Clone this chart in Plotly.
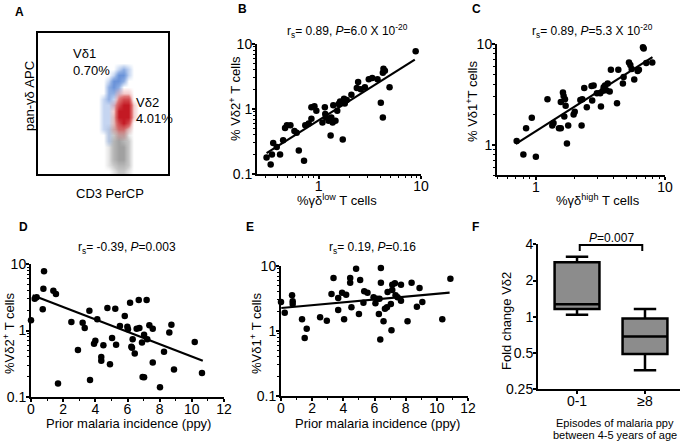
import numpy as np
import plotly.graph_objects as go

W, H = 684, 446
FONT = "Liberation Sans, Arial, sans-serif"

# ---------------- data ----------------
# Panel A: flow cytometry densities (coarse grid)
A_xc = [60, 65, 70, 75, 80, 85, 90, 95, 100]
A_yc = [3, 9, 15, 21, 27, 33, 39, 45, 51, 57, 63, 69, 75, 81, 87, 93, 99, 105, 111]
A_grey = [
    [0, 0, 0, 1, 2, 2, 1, 0, 0],
    [0, 0, 1, 2, 3, 3, 2, 0, 0],
    [0, 0, 1, 3, 4, 4, 2, 0, 0],
    [0, 0, 1, 3, 4, 4, 2, 0, 0],
    [0, 0, 1, 3, 4, 4, 2, 0, 0],
    [0, 0, 1, 3, 4, 3, 2, 0, 0],
    [0, 0, 1, 2, 3, 3, 1, 0, 0],
    [0, 0, 1, 2, 2, 2, 1, 0, 0],
    [0, 0, 0, 1, 1, 1, 0, 0, 0],
    [0, 0, 0, 1, 1, 0, 0, 0, 0],
] + [[0] * 9 for _ in range(9)]
A_red = [[0] * 9 for _ in range(6)] + [
    [0, 0, 0, 0, 1, 1, 0, 0, 0],
    [0, 0, 0, 1, 2, 2, 1, 0, 0],
    [0, 0, 0, 1, 3, 4, 3, 0, 0],
    [0, 0, 0, 1, 4, 4, 4, 1, 0],
    [0, 0, 0, 1, 4, 4, 4, 1, 0],
    [0, 0, 0, 1, 3, 4, 4, 1, 0],
    [0, 0, 0, 0, 2, 3, 3, 0, 0],
    [0, 0, 0, 0, 1, 1, 1, 0, 0],
] + [[0] * 9 for _ in range(5)]
A_blue = [[0] * 9 for _ in range(5)] + [
    [0, 0, 1, 0, 0, 0, 0, 0, 0],
    [0, 0, 1, 0, 0, 0, 0, 0, 0],
    [0, 1, 1, 0, 0, 0, 0, 0, 0],
    [0, 1, 1, 0, 0, 0, 0, 0, 0],
    [0, 1, 1, 0, 0, 0, 0, 0, 0],
    [0, 1, 1, 0, 0, 0, 0, 0, 0],
    [0, 1, 1, 1, 0, 0, 0, 0, 0],
    [0, 1, 2, 1, 0, 0, 0, 0, 0],
    [0, 0, 2, 2, 1, 0, 0, 0, 0],
    [0, 0, 2, 3, 2, 0, 0, 0, 0],
    [0, 0, 1, 3, 3, 2, 0, 0, 0],
    [0, 0, 0, 1, 3, 3, 1, 0, 0],
    [0, 0, 0, 0, 1, 2, 1, 0, 0],
    [0, 0, 0, 0, 0, 0, 0, 0, 0],
]

# Panel B
B_x = [0.31, 0.34, 0.35, 0.36, 0.39, 0.42, 0.45, 0.47, 0.49, 0.53,
       0.58, 0.61, 0.64, 0.72, 0.74, 0.80, 0.85, 0.85, 0.91, 0.95,
       1.09, 1.15, 1.16, 1.18, 1.25, 1.31, 1.33, 1.37, 1.39, 1.46,
       1.52, 1.57, 1.62, 1.72, 1.77, 1.80, 1.88, 2.09, 2.36, 2.43,
       2.58, 2.83, 3.09, 3.34, 3.76, 4.05, 4.24, 4.24, 4.30, 4.44,
       4.93, 8.87]
B_y = [0.18, 0.14, 0.20, 0.30, 0.26, 0.20, 0.33, 0.51, 0.56, 0.56,
       0.46, 0.43, 0.23, 0.16, 0.56, 0.60, 0.71, 1.06, 1.10, 0.94,
       0.62, 1.06, 0.84, 0.74, 0.66, 0.39, 0.74, 0.62, 1.14, 0.66,
       0.94, 1.19, 1.31, 0.34, 1.44, 1.22, 1.38, 1.66, 2.10, 2.60,
       2.01, 2.16, 2.87, 3.0, 2.87, 1.25, 0.74, 3.6, 4.17, 3.89,
       2.16, 7.73]
B_fit_x = [0.31, 8.7]
B_fit_y = [0.21, 5.75]

# Panel C
C_x = [0.71, 0.80, 0.84, 0.93, 1.0, 1.23, 1.34, 1.37, 1.51, 1.56,
       1.56, 1.62, 1.64, 1.66, 1.68, 1.70, 1.74, 1.78, 1.96, 2.0,
       2.21, 2.26, 2.29, 2.37, 2.48, 2.70, 2.73, 2.80, 2.97, 3.15,
       3.19, 3.31, 3.35, 3.43, 3.51, 3.60, 3.73, 3.81, 4.25, 4.35,
       4.72, 4.78, 5.26, 5.39, 5.52, 5.78, 6.14, 6.28, 6.75, 6.84,
       7.16, 7.97]
C_y = [1.09, 0.80, 1.46, 1.85, 0.76, 2.82, 1.55, 1.64, 1.46, 1.46,
       2.66, 3.29, 3.05, 1.91, 2.82, 2.43, 1.03, 1.55, 2.0, 2.12,
       2.78, 1.55, 2.82, 3.65, 2.36, 3.82, 2.74, 3.87, 3.24, 3.24,
       2.39, 3.44, 3.71, 3.87, 3.48, 4.06, 3.38, 5.56, 2.58, 5.56,
       4.06, 4.71, 6.56, 6.18, 5.65, 4.44, 5.40, 5.56, 9.28, 9.0,
       6.46, 6.56]
C_fit_x = [0.70, 8.0]
C_fit_y = [1.02, 7.4]

# Panel D
D_x = [0, 0.23, 0.35, 0.81, 0.77, 0.73, 1.39, 1.55, 1.68, 2.51,
       2.92, 3.21, 3.34, 3.63, 3.67, 3.92, 4.0, 4.12, 4.37, 4.37,
       4.5, 4.75, 4.91, 5.04, 5.24, 5.29, 5.53, 5.83, 5.99, 6.03,
       6.16, 6.24, 6.28, 6.32, 6.45, 6.57, 6.70, 6.74, 6.9, 6.94,
       7.03, 7.03, 7.19, 7.23, 7.36, 7.57, 7.57, 8.02, 8.27, 8.6,
       8.73, 8.89, 10.18, 10.63]
D_y = [1.42, 3.0, 3.16, 7.76, 4.26, 2.08, 3.97, 3.54, 0.16, 1.34,
       0.51, 1.31, 1.09, 1.99, 0.18, 0.63, 0.70, 1.47, 0.40, 0.35,
       0.60, 2.18, 0.31, 0.77, 2.13, 0.61, 1.17, 1.65, 1.14, 1.04,
       2.62, 0.57, 0.55, 0.74, 0.45, 1.06, 2.88, 1.09, 0.66, 0.20,
       0.198, 0.86, 2.88, 0.74, 1.20, 1.06, 0.33, 0.14, 0.48, 0.93,
       1.22, 0.26, 0.67, 0.23]
D_fit_x = [0.1, 10.68]
D_fit_y = [3.38, 0.35]

# Panel E
E_x = [0, 0.24, 0.71, 0.75, 0.75, 1.35, 1.52, 1.65, 2.51, 2.94,
       3.24, 3.37, 3.67, 3.67, 3.92, 4.05, 4.18, 4.44, 4.44, 4.52,
       4.82, 5.0, 5.08, 5.29, 5.34, 5.55, 5.94, 6.06, 6.15, 6.28,
       6.32, 6.37, 6.41, 6.41, 6.58, 6.67, 6.80, 6.84, 7.05, 7.09,
       7.14, 7.14, 7.31, 7.35, 7.48, 7.70, 7.70, 8.12, 8.38, 8.72,
       8.89, 9.07, 10.35, 10.87]
E_y = [2.79, 1.91, 3.54, 2.86, 2.60, 1.51, 0.78, 1.08, 1.63, 1.44,
       3.71, 6.54, 3.22, 2.10, 3.88, 1.51, 3.61, 6.54, 5.53, 2.31,
       9.1, 1.83, 6.09, 2.73, 4.08, 3.89, 3.30, 2.67, 3.14, 1.83,
       3.14, 0.74, 5.53, 9.3, 1.41, 2.20, 2.31, 3.98, 2.60, 1.03,
       4.27, 5.16, 5.41, 3.54, 3.30, 5.16, 2.92, 1.41, 5.53, 2.37,
       4.59, 2.79, 1.51, 6.38]
E_fit_x = [0.02, 10.82]
E_fit_y = [2.26, 3.89]

# Panel F (box summary)
F_cats = ["0-1", "\u22658"]
F_lower = [1.04, 0.36]
F_q1 = [1.16, 0.49]
F_med = [1.27, 0.685]
F_q3 = [2.84, 0.97]
F_upper = [3.16, 1.16]

# --------------- helpers ---------------
def px_x(p):
    return p / W

def px_y(p):
    return 1 - p / H

fig = go.Figure()

def scatter(xs, ys, ax):
    fig.add_trace(go.Scatter(x=xs, y=ys, mode="markers", xaxis="x" + ax, yaxis="y" + ax,
                             marker=dict(color="black", size=6.5), cliponaxis=False,
                             showlegend=False, hoverinfo="skip"))

def fitline(xs, ys, ax):
    fig.add_trace(go.Scatter(x=xs, y=ys, mode="lines", xaxis="x" + ax, yaxis="y" + ax,
                             line=dict(color="black", width=2.2), showlegend=False,
                             hoverinfo="skip"))

# Panel A heatmaps
def blob(z, colors):
    fig.add_trace(go.Heatmap(x=A_xc, y=A_yc, z=z, zmin=0, zmax=4, zsmooth="best",
                             colorscale=colors, showscale=False, hoverinfo="skip",
                             xaxis="x", yaxis="y"))

blob(A_grey, [[0, "rgba(200,200,200,0)"], [0.25, "rgba(195,195,195,0.45)"],
              [0.5, "rgba(185,185,185,0.8)"], [1, "rgba(160,160,160,1)"]])
blob(A_blue, [[0, "rgba(90,140,215,0)"], [0.25, "rgba(110,150,220,0.4)"],
              [0.5, "rgba(95,140,215,0.7)"], [1, "rgba(65,115,205,1)"]])
blob(A_red, [[0, "rgba(215,60,60,0)"], [0.25, "rgba(220,90,90,0.3)"],
             [0.5, "rgba(210,60,60,0.7)"], [1, "rgba(195,25,35,1)"]])

scatter(B_x, B_y, "2"); fitline(B_fit_x, B_fit_y, "2")
scatter(C_x, C_y, "3"); fitline(C_fit_x, C_fit_y, "3")
scatter(D_x, D_y, "4"); fitline(D_fit_x, D_fit_y, "4")
scatter(E_x, E_y, "5"); fitline(E_fit_x, E_fit_y, "5")

for i in range(2):
    fig.add_trace(go.Box(x=[i], q1=[F_q1[i]], median=[F_med[i]], q3=[F_q3[i]],
                         lowerfence=[F_lower[i]], upperfence=[F_upper[i]],
                         xaxis="x6", yaxis="y6", width=0.66, whiskerwidth=0.5,
                         fillcolor="#8c8c8c", line=dict(color="black", width=2.5),
                         showlegend=False, hoverinfo="skip", boxpoints=False))

# --------------- axes ---------------
base = dict(showline=True, linecolor="black", linewidth=2, ticks="outside", ticklen=3,
            tickwidth=1.5, tickcolor="black", showgrid=False, zeroline=False, automargin=False,
            tickfont=dict(size=14, color="black", family=FONT))
xbase = dict(base, ticklabelstandoff=-5)
ybase = dict(base, ticklabelstandoff=-3)

def logminor(lo, hi):
    vals = []
    for d in range(-2, 2):
        for m in range(2, 10):
            v = m * 10 ** d
            if lo <= v <= hi:
                vals.append(v)
    return dict(ticks="outside", ticklen=2, tickwidth=1, tickcolor="black",
                tickmode="array", tickvals=vals, showgrid=False)

def dom(x0, x1, y0, y1):
    return [px_x(x0), px_x(x1)], [px_y(y1), px_y(y0)]

layout = dict(width=W, height=H, margin=dict(l=0, r=0, t=0, b=0, pad=0, autoexpand=False),
              paper_bgcolor="white", plot_bgcolor="rgba(0,0,0,0)",
              font=dict(family=FONT, color="black"), showlegend=False)

xd, yd = dom(38, 168, 33, 174)
layout["xaxis"] = dict(domain=xd, range=[0, 130], showline=True, mirror=True, linecolor="black",
                       linewidth=1.5, showticklabels=False, ticks="", showgrid=False, zeroline=False,
                       automargin=False)
layout["yaxis"] = dict(domain=yd, range=[0, 141], showline=True, mirror=True, linecolor="black",
                       linewidth=1.5, showticklabels=False, ticks="", showgrid=False, zeroline=False,
                       automargin=False)

xd, yd = dom(257, 421, 44, 174)
layout["xaxis2"] = dict(xbase, domain=xd, anchor="y2", type="log", range=[np.log10(0.25), 1],
                        tickmode="array", tickvals=[1, 10], ticktext=["1", "10"], minor=logminor(0.25, 10))
layout["yaxis2"] = dict(ybase, domain=yd, anchor="x2", type="log", range=[-1, 1],
                        tickmode="array", tickvals=[0.1, 1, 10], ticktext=["0.1", "1", "10"], minor=logminor(0.1, 10))

xd, yd = dom(497, 665, 44, 175)
layout["xaxis3"] = dict(xbase, domain=xd, anchor="y3", type="log", range=[np.log10(0.5), 1],
                        tickmode="array", tickvals=[1, 10], ticktext=["1", "10"], minor=logminor(0.5, 10))
layout["yaxis3"] = dict(ybase, domain=yd, anchor="x3", type="log", range=[np.log10(0.5), 1],
                        tickmode="array", tickvals=[1, 10], ticktext=["1", "10"], minor=logminor(0.5, 10))

for ax, (x0, x1, y0, y1) in (("4", (31, 224, 264, 397)), ("5", (281, 468, 266, 396))):
    xd, yd = dom(x0, x1, y0, y1)
    layout["xaxis" + ax] = dict(xbase, domain=xd, anchor="y" + ax, range=[0, 12],
                                tickmode="array", tickvals=[0, 2, 4, 6, 8, 10, 12],
                                minor=dict(ticks="outside", ticklen=2, tickwidth=1, tickcolor="black",
                                           tickmode="array", tickvals=[1, 3, 5, 7, 9, 11], showgrid=False))
    layout["yaxis" + ax] = dict(ybase, domain=yd, anchor="x" + ax, type="log", range=[-1, 1],
                                tickmode="array", tickvals=[0.1, 1, 10], ticktext=["0.1", "1", "10"],
                                minor=logminor(0.1, 10))

xd, yd = dom(538, 680, 244.3, 389.3)
layout["xaxis6"] = dict(xbase, domain=xd, anchor="y6", range=[-0.574, 1.515],
                        tickmode="array", tickvals=[0, 1], ticktext=F_cats)
layout["yaxis6"] = dict(ybase, domain=yd, anchor="x6", type="log", range=[np.log10(0.25), np.log10(4)],
                        tickmode="array", tickvals=[0.25, 0.5, 1, 2, 4], ticktext=["0.25", "0.5", "1", "2", "4"])

fig.update_layout(**layout)

# --------------- annotations ---------------
anns = []

def ann(text, x, y, size=13, angle=0, xanchor="center", bold=False):
    t = "<b>" + text + "</b>" if bold else text
    anns.append(dict(text=t, x=px_x(x), y=px_y(y), xref="paper", yref="paper", showarrow=False,
                     xanchor=xanchor, yanchor="middle", textangle=angle,
                     font=dict(size=size, color="black", family=FONT)))

for lab, x, y in (("A", 19, 12), ("B", 242, 9), ("C", 477, 9), ("D", 23, 227), ("E", 250, 227), ("F", 475, 227)):
    ann(lab, x, y, size=12, bold=True)

# A
ann("V\u03b41", 71, 53, size=13, xanchor="left")
ann("0.70%", 71, 70, size=13, xanchor="left")
ann("V\u03b42", 134, 102, size=13, xanchor="left")
ann("4.01%", 134, 118, size=13, xanchor="left")
ann("pan-\u03b3\u03b4 APC", 30, 96, size=13, angle=-90)
ann("CD3 PerCP", 110, 193, size=13)

# B
ann("r<sub>s</sub>= 0.89, <i>P</i>=6.0 X 10<sup>-20</sup>", 347, 31, size=12)
ann("% V\u03b42<sup>+</sup> T cells", 235, 99, size=13, angle=-90)
ann("%\u03b3\u03b4<sup>low</sup> T cells", 337, 200, size=13)

# C
ann("r<sub>s</sub>= 0.89, <i>P</i>=5.3 X 10<sup>-20</sup>", 592, 31, size=12)
ann("% V\u03b41<sup>+</sup>T cells", 472, 102, size=13, angle=-90)
ann("%\u03b3\u03b4<sup>high</sup> T cells", 598, 200, size=13)

# D
ann("r<sub>s</sub>= -0.39, <i>P</i>=0.003", 127, 248, size=12)
ann("%V\u03b42<sup>+</sup> T cells", 9, 334, size=13, angle=-90)
ann("Prior malaria incidence (ppy)", 128, 423, size=13)

# E
ann("r<sub>s</sub>= 0.19, <i>P</i>=0.16", 373, 248, size=12)
ann("%V\u03b41<sup>+</sup> T cells", 256, 334, size=13, angle=-90)
ann("Prior malaria incidence (ppy)", 377, 423, size=13)

# F
ann("Fold change V\u03b42", 506, 321, size=13, angle=-90)
ann("<i>P</i>=0.007", 611, 238, size=12)
ann("Episodes of malaria ppy", 615, 423, size=11)
ann("between 4-5 years of age", 615, 435, size=11)

fig.update_layout(annotations=anns)

fig.add_shape(type="path", xref="x6", yref="paper",
              path="M 0.04,%f L 0.04,%f L 0.96,%f L 0.96,%f" % (px_y(251), px_y(245), px_y(245), px_y(251)),
              line=dict(color="black", width=2))

fig.write_html("out.html", config={"displayModeBar": False},
               post_script="document.body.style.margin='0';document.body.style.overflow='hidden';")
